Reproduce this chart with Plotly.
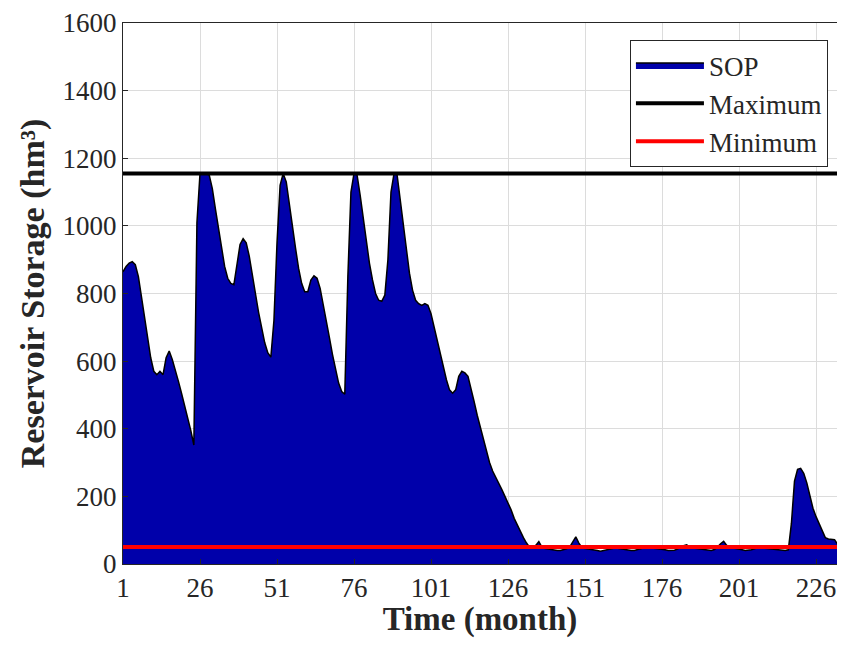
import plotly.graph_objects as go

# ---------------- data ----------------
months = list(range(1, 237))

sop_storage = [
    864, 880, 890, 894, 885, 850, 790, 725, 665, 610,      # 1-10
    570, 560, 570, 560, 610, 630, 605, 575, 540, 505,      # 11-20
    470, 435, 395, 352, 1010, 1155, 1155, 1155, 1150, 1110,  # 21-30
    1050, 990, 930, 880, 845, 830, 826, 880, 945, 962,     # 31-40
    950, 910, 860, 800, 745, 695, 655, 625, 612, 720,      # 41-50
    950, 1120, 1155, 1130, 1070, 1000, 935, 875, 830, 805, # 51-60
    805, 840, 852, 845, 815, 770, 720, 670, 620, 575,      # 61-70
    535, 510, 502, 850, 1100, 1155, 1150, 1090, 1020, 950, # 71-80
    890, 840, 800, 780, 777, 795, 900, 1100, 1155, 1150,   # 81-90
    1080, 1000, 930, 860, 810, 780, 770, 765, 770, 765,    # 91-100
    740, 700, 660, 620, 580, 545, 515, 505, 515, 555,      # 101-110
    570, 565, 555, 520, 480, 440, 405, 375, 340, 300,      # 111-120
    275, 258, 240, 220, 200, 182, 160, 135, 115, 95,       # 121-130
    78, 62, 50, 48, 55, 66, 50, 46, 44, 42,                # 131-140
    41, 40, 40, 42, 45, 50, 65, 80, 62, 48,                # 141-150
    46, 45, 44, 42, 40, 38, 40, 43, 46, 48,                # 151-160
    48, 46, 44, 42, 41, 40, 40, 42, 45, 48,                # 161-170
    50, 48, 47, 46, 46, 44, 42, 40, 40, 41,                # 171-180
    44, 50, 54, 57, 50, 47, 46, 45, 44, 42,                # 181-190
    41, 40, 43, 50, 60, 67, 55, 48, 47, 46,                # 191-200
    45, 42, 40, 40, 42, 45, 48, 48, 47, 46,                # 201-210
    45, 43, 41, 40, 40, 40, 42, 120, 245, 280,             # 211-220
    283, 268, 240, 200, 165, 140, 118, 95, 78, 74,         # 221-230
    72, 72, 58, 50, 48, 48,                                # 231-236
]

max_storage = 1155
min_storage = 50

x_tick_vals = [1, 26, 51, 76, 101, 126, 151, 176, 201, 226]
y_tick_vals = [0, 200, 400, 600, 800, 1000, 1200, 1400, 1600]

series_names = ["SOP", "Maximum", "Minimum"]

# ---------------- figure ----------------
FONT = "Liberation Serif"
TXT = "#262626"

fig = go.Figure()

fig.add_trace(go.Scatter(
    x=months, y=sop_storage, name=series_names[0],
    mode="lines", fill="tozeroy",
    fillcolor="#0000AA",
    line=dict(color="black", width=1.5),
))

fig.add_trace(go.Scatter(
    x=[months[0], months[-1]], y=[max_storage, max_storage],
    name=series_names[1], mode="lines",
    line=dict(color="black", width=4),
))

fig.add_trace(go.Scatter(
    x=[months[0], months[-1]], y=[min_storage, min_storage],
    name=series_names[2], mode="lines",
    line=dict(color="#FF0000", width=4),
))

fig.update_layout(
    width=829, height=630,
    margin=dict(l=115, r=0, t=15, b=73.5, autoexpand=False),
    paper_bgcolor="white", plot_bgcolor="white",
    font=dict(family=FONT, color=TXT, size=27),
    showlegend=True,
    legend=dict(
        x=0.710, y=0.9686, xanchor="left", yanchor="top",
        bgcolor="white", bordercolor=TXT, borderwidth=1,
        font=dict(family=FONT, size=27, color=TXT),
        itemwidth=68, tracegroupgap=0,
    ),
)

fig.update_xaxes(
    range=[1, 232.8],
    tickvals=x_tick_vals,
    ticktext=[str(v) for v in x_tick_vals],
    automargin=False,
    showgrid=True, gridcolor="#DCDCDC", gridwidth=1,
    showline=True, linecolor=TXT, linewidth=1, mirror=True,
    ticks="inside", ticklen=5, tickcolor=TXT,
    zeroline=False,
    tickfont=dict(family=FONT, size=27, color=TXT),
    title=dict(text="<b>Time (month)</b>", standoff=8,
               font=dict(family=FONT, size=33, color=TXT)),
)

fig.update_yaxes(
    range=[0, 1600],
    tickvals=y_tick_vals,
    automargin=False,
    showgrid=True, gridcolor="#DCDCDC", gridwidth=1,
    showline=True, linecolor=TXT, linewidth=1, mirror=False,
    ticks="inside", ticklen=5, tickcolor=TXT,
    zeroline=False,
    tickfont=dict(family=FONT, size=27, color=TXT),
    title=dict(text="<b>Reservoir Storage (hm³)</b>", standoff=7,
               font=dict(family=FONT, size=34, color=TXT)),
)

fig.write_html("out.html")
